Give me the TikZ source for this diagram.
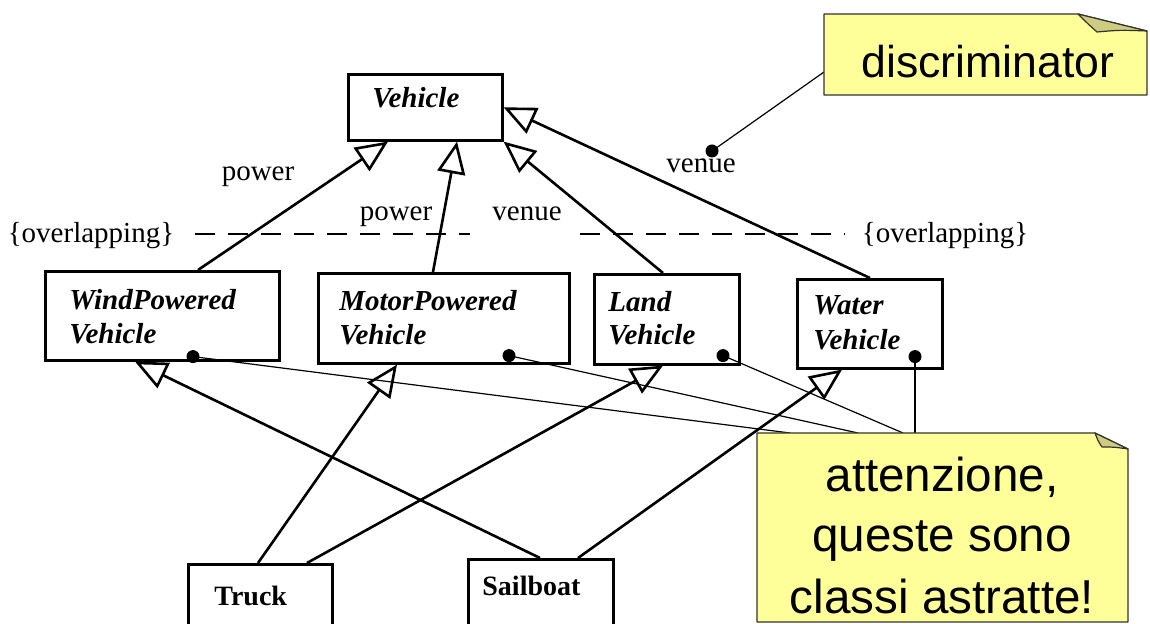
\documentclass[tikz,border=0pt]{standalone}
\usepackage{fontspec}
\setmainfont{Liberation Serif}
\newfontfamily\notefont{Liberation Sans}
\usetikzlibrary{arrows.meta,calc}
\definecolor{noteyellow}{RGB}{255,255,153}
\definecolor{notefold}{RGB}{206,204,128}
\definecolor{noteborder}{RGB}{50,50,50}
\begin{document}
\begin{tikzpicture}[x=0.5pt,y=-0.5pt,
  box/.style={draw, line width=1.3pt, inner sep=0pt, anchor=north west},
  ctext/.style={font=\fontsize{14.5}{17}\selectfont\bfseries\itshape, anchor=base west, inner sep=0pt},
  btext/.style={font=\fontsize{14}{17}\selectfont\bfseries, anchor=base west, inner sep=0pt},
  lbl/.style={font=\fontsize{14.5}{17}\selectfont, anchor=base, inner sep=0pt},
  gen/.style={line width=1.3pt, -{Triangle[open,length=16pt,width=14pt]}},
  thinl/.style={line width=0.6pt},
  dashl/.style={line width=1.1pt, dash pattern=on 10pt off 6.5pt},
  dotn/.style={circle, fill=black, inner sep=0pt, minimum size=6.5pt},
  notebody/.style={fill=noteyellow, draw=noteborder, line width=0.6pt, line join=round},
  notefoldst/.style={fill=notefold, draw=noteborder, line width=0.6pt, line join=round},
  ntext/.style={font=\notefont\fontsize{23.8}{28}\selectfont, anchor=base, inner sep=0pt},
]
\useasboundingbox (0,0) rectangle (1150,624);
\clip (0,0) rectangle (1150,624);

% dashed overlapping line
\coordinate (d1) at (195,234);
\coordinate (d2) at (470,234);
\coordinate (d3) at (580,234);
\coordinate (d4) at (845,234);
\draw[dashl] (d1) -- (d2);
\draw[dashl] (d3) -- (d4);

% labels
\node[lbl] (ovl1) at (91,243) {\{overlapping\}};
\node[lbl] (ovl2) at (945,243) {\{overlapping\}};
\node[lbl] (pw1) at (258,181) {power};
\node[lbl] (pw2) at (396,221) {power};
\node[lbl] (vn1) at (527,221) {venue};
\node[lbl] (vn2) at (701,173) {venue};

% class boxes
\node[box, minimum width=77pt, minimum height=33pt] (veh) at (347,73) {};
\node[box, minimum width=117pt, minimum height=44.5pt] (wind) at (44,270) {};
\node[box, minimum width=125.5pt, minimum height=45pt] (motor) at (317,272) {};
\node[box, minimum width=72.5pt, minimum height=45pt] (land) at (593,273) {};
\node[box, minimum width=72.5pt, minimum height=44.5pt] (water) at (796,278) {};
\node[box, minimum width=72pt, minimum height=45pt] (truck) at (187,563) {};
\node[box, minimum width=72.5pt, minimum height=50pt] (sail) at (467,558) {};

% class names
\node[ctext] (tveh) at (372,108) {Vehicle};
\node[ctext] (twind1) at (69,310) {WindPowered};
\node[ctext] (twind2) at (69,344) {Vehicle};
\node[ctext] (tmot1) at (339,311) {MotorPowered};
\node[ctext] (tmot2) at (339,345) {Vehicle};
\node[ctext] (tland1) at (608,312) {Land};
\node[ctext] (tland2) at (608,345) {Vehicle};
\node[ctext] (twat1) at (813,315) {Water};
\node[ctext] (twat2) at (813,350) {Vehicle};
\node[btext] (ttruck) at (214,605) {Truck};
\node[btext] (tsail) at (482,595) {Sailboat};

% generalizations
\draw[gen] ($(wind.north west)+(154,0)$) -- ($(veh.south west)+(41,0)$);
\draw[gen] ($(motor.north west)+(116,0)$) -- ($(veh.south west)+(110,0)$);
\draw[gen] ($(land.north west)+(70,0)$) -- (veh.south east);
\draw[gen] ($(water.north west)+(74,0)$) -- (veh.east);
\draw[gen] ($(truck.north west)+(71,0)$) -- ($(motor.south west)+(80,0)$);
\draw[gen] ($(truck.north west)+(120,0)$) -- ($(land.south west)+(70,0)$);
\draw[gen] ($(sail.north west)+(73,0)$) -- ($(wind.south west)+(91,0)$);
\draw[gen] ($(sail.north west)+(111,0)$) -- ($(water.south west)+(46,0)$);

% dots
\node[dotn] (dwind) at ($(wind.south west)+(149,-5)$) {};
\node[dotn] (dmot) at ($(motor.south west)+(192,-9)$) {};
\node[dotn] (dland) at ($(land.south west)+(130,-10)$) {};
\node[dotn] (dwat) at ($(water.south west)+(119,-13)$) {};
\node[dotn] (ddisc) at (712,151) {};

% note anchor points
\coordinate (na) at (790,433);
\coordinate (nb) at (858,433);
\coordinate (nc) at (903,433);
\coordinate (nd) at (915,433);
\coordinate (ne) at (824,72);

\draw[thinl] (dwind.center) -- (na);
\draw[thinl] (dmot.center) -- (nb);
\draw[thinl] (dland.center) -- (nc);
\draw[thinl] (dwat.center) -- (nd);
\draw[thinl] (ddisc.center) -- (ne);

% discriminator note
\path[notebody] (824,14) -- (1078,14) -- (1147,31) -- (1147,95) -- (824,95) -- cycle;
\path[notefoldst] (1078,14) .. controls (1088,24) .. (1097,32) .. controls (1120,30) .. (1147,31) -- cycle;
\node[font=\notefont\fontsize{22.3}{26}\selectfont, anchor=base, inner sep=0pt] (tdisc) at (988,78) {discriminator};

% abstract classes note
\path[notebody] (757,433) -- (1095,433) -- (1128,449) -- (1128,622) -- (757,622) -- cycle;
\path[notefoldst] (1095,433) .. controls (1098,441) .. (1102,447) .. controls (1114,447) .. (1128,449) -- cycle;
\node[ntext] (tn1) at (942,492) {attenzione,};
\node[ntext] (tn2) at (942,552) {queste sono};
\node[ntext] (tn3) at (942,613) {classi astratte!};
\end{tikzpicture}
\end{document}
